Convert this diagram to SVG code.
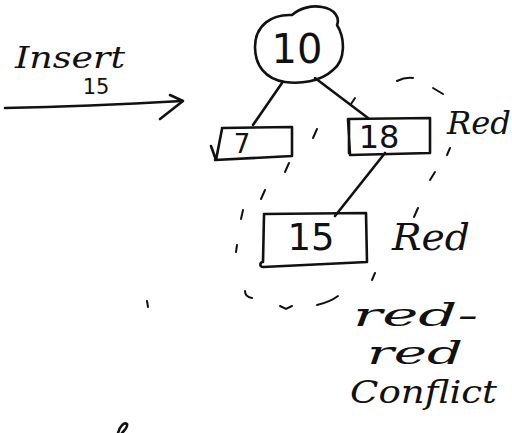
<svg xmlns="http://www.w3.org/2000/svg" width="512" height="433" viewBox="0 0 512 433">
<defs>
<style>
.ink{fill:none;stroke:#111;stroke-width:2.6;stroke-linecap:round;stroke-linejoin:round}
.dash{fill:none;stroke:#111;stroke-width:2;stroke-linecap:round}
.num{font-family:"DejaVu Sans",sans-serif;fill:#111;text-anchor:middle}
.hand{font-family:"DejaVu Serif",serif;font-style:italic;fill:#111}
</style>
</defs>
<rect width="512" height="433" fill="#fff"/>
<g id="insert-label">
<text class="hand" x="15" y="68" font-size="30" textLength="110" lengthAdjust="spacingAndGlyphs">Insert</text>
<text class="num" x="96" y="94" font-size="21">15</text>
</g>
<g id="connectors">
<path class="ink" d="M5,108 C60,107 130,104 182,101"/>
<path class="ink" d="M170,95 L183,101 L160,119"/>
<path class="ink" d="M282,83 L253,125"/>
<path class="ink" d="M315,78 L368,118"/>
<path class="ink" d="M385,153 L335,216"/>
</g>
<g id="node-10">
<path class="ink" d="M255,47 C255,25 272,14 292,15 C300,8 312,5 322,7 C335,9 340,18 337,25 C345,38 346,60 333,70 C320,82 300,84 285,82 C265,79 255,65 255,47 Z"/>
<text class="num" x="297" y="63" font-size="40">10</text>
</g>
<g id="node-7">
<path class="ink" d="M222,128 L292,127 L292,156 L215,160 M222,129 L216,160 L211,146"/>
<text class="num" x="242" y="153" font-size="26">7</text>
</g>
<g id="node-18">
<path class="ink" d="M348,119 L430,118 L430,153 L350,155 Z M349,121 L349,153"/>
<text class="num" x="379" y="148" font-size="32">18</text>
<text class="hand" x="447" y="134" font-size="31" textLength="64" lengthAdjust="spacingAndGlyphs">Red</text>
</g>
<g id="node-15">
<path class="ink" d="M264,214 L366,213 L367,262 L263,267 M264,215 L263,262 C260,262 259,267 263,267"/>
<text class="num" x="311" y="250" font-size="37">15</text>
<text class="hand" x="392" y="250" font-size="38" textLength="78" lengthAdjust="spacingAndGlyphs">Red</text>
</g>
<g id="conflict-region">
<path class="dash" d="M397,81 Q405,77 413,78"/>
<path class="dash" d="M433,88 L443,94"/>
<path class="dash" d="M450,148 L447,155"/>
<path class="dash" d="M435,172 L430,180"/>
<path class="dash" d="M418,208 L414,217"/>
<path class="dash" d="M375,273 L372,280"/>
<path class="dash" d="M317,305 Q330,302 338,296"/>
<path class="dash" d="M280,306 L286,309 L292,306"/>
<path class="dash" d="M245,291 Q245,297 252,298"/>
<path class="dash" d="M237,245 L236,252"/>
<path class="dash" d="M243,210 L241,219"/>
<path class="dash" d="M265,190 L261,199"/>
<path class="dash" d="M289,163 L285,172"/>
<path class="dash" d="M317,129 L313,138"/>
<path class="dash" d="M355,98 L351,104"/>
<text class="hand" x="353" y="326" font-size="32" textLength="125" lengthAdjust="spacingAndGlyphs">red-</text>
<text class="hand" x="367" y="364" font-size="32" textLength="96" lengthAdjust="spacingAndGlyphs">red</text>
<text class="hand" x="350" y="403" font-size="32" textLength="147" lengthAdjust="spacingAndGlyphs">Conflict</text>
</g>
<g id="marks">
<path class="dash" d="M147,301 L148,307"/>
<path class="ink" d="M118,433 C120,426 124,422 127,424 C128,427 124,431 122,433"/>
</g>
</svg>
